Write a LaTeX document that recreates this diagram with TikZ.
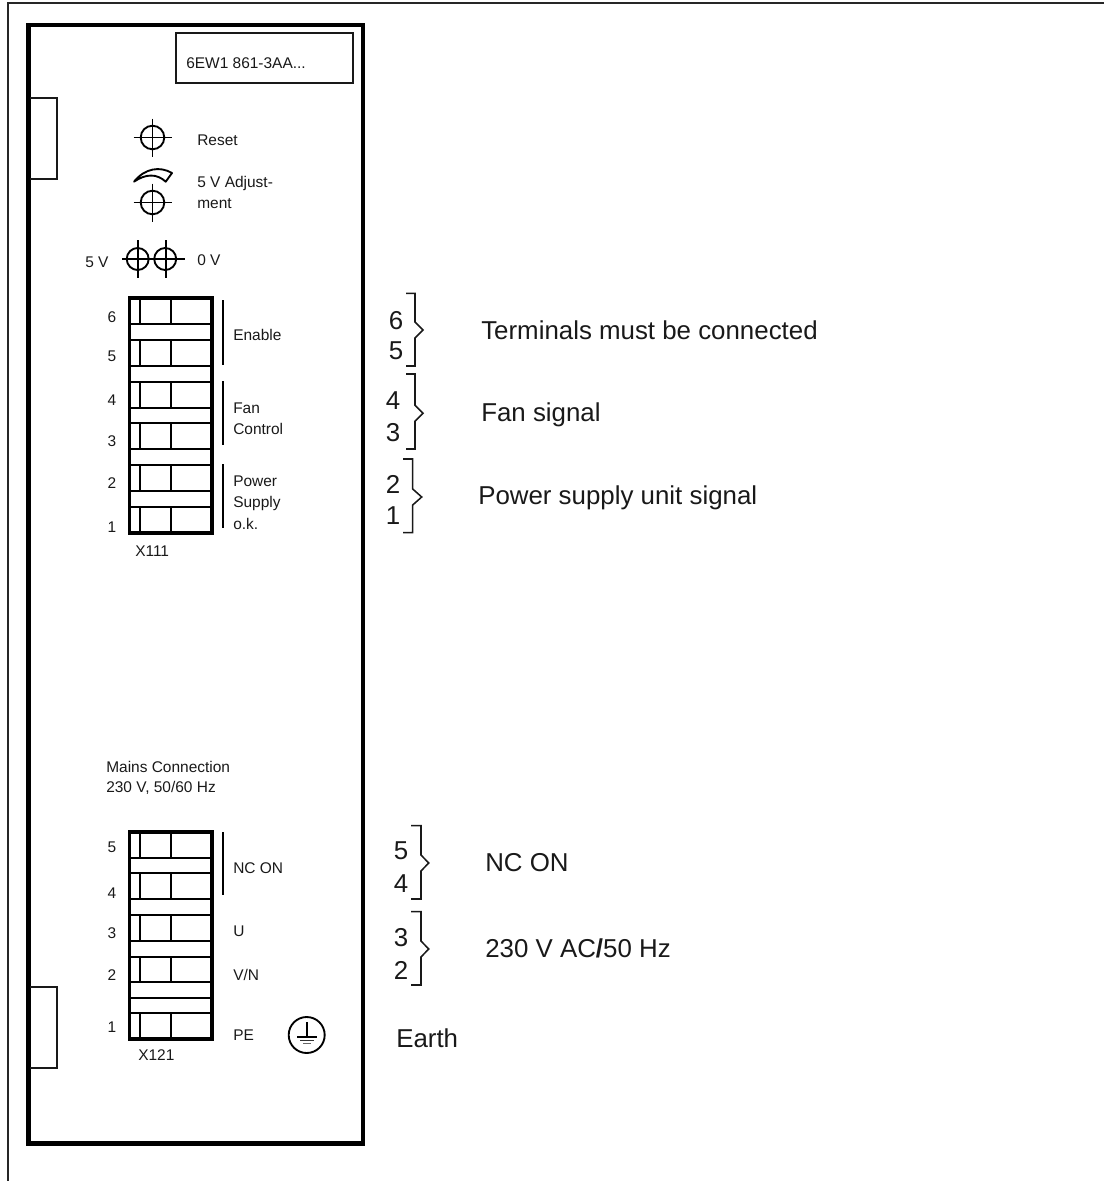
\documentclass[tikz,border=0pt]{standalone}
\usepackage{fontspec}
\setmainfont{Liberation Sans}
\tikzset{
  small/.style={font=\fontsize{11.6pt}{13pt}\selectfont, inner sep=0pt, anchor=base west, yshift=-4.1pt, text=black!90},
  smalldigit/.style={small, anchor=base},
  big/.style={font=\fontsize{19.4pt}{22pt}\selectfont, inner sep=0pt, anchor=base west, yshift=-6.9pt, text=black!90},
  bigdigit/.style={big, anchor=base},
  frame/.style={line width=1.1pt, black!85},
  panel/.style={line width=3.2pt, black, line cap=square},
  conn/.style={line width=2.8pt, black, line cap=square},
  thin line/.style={line width=1.4pt, black},
  tab line/.style={line width=1.15pt, black!90},
  brace line/.style={line width=1.15pt, black!90, line join=miter},
}
\newcommand{\tgt}[4]{%
  \draw[thin line] (#1,#2) circle (#4);
  \draw[thin line] (#1-19,#2) -- (#1+19,#2);
  \draw[thin line] (#1,#2-19) -- (#1,#2+19);
  \coordinate (#3) at (#1,#2);}
\newcommand{\cbrace}[6]{% xv, xhook, xtip, ytop, ytip, ybot
  \draw[brace line] (#2,#4) -- (#1,#4) -- (#1,#5-8) -- (#3,#5) -- (#1,#5+8) -- (#1,#6) -- (#2,#6);}
\begin{document}
\begin{tikzpicture}[x=0.75pt,y=-0.75pt]
\useasboundingbox (0,0) rectangle (1104,1181);
% outer frame
\coordinate (fa) at (8,1181);
\coordinate (fb) at (8,3);
\coordinate (fc) at (1104,3);
\draw[frame] (fa) -- (fb) -- (fc);
% panel
\draw[panel] (28.5,25) rectangle (363,1143.5);
% type label
\draw[tab line] (176,33) rectangle (353,83);
\node[small] (type) at (186,63) {6EW1 861-3AA...};
% tabs
\draw[tab line] (30,98) -- (57,98) -- (57,179) -- (30,179);
\draw[tab line] (30,987) -- (57,987) -- (57,1068) -- (30,1068);
% reset and adjustment
\tgt{152.5}{137.5}{reset}{11.8}
\node[small] (lreset) at (197,140) {Reset};
\tgt{152.5}{202.5}{adjust}{11.8}
\draw[thin line, line join=round] (134,181.7) .. controls (145,168) and (160,166) .. (172,173) -- (165.7,181.7) .. controls (157,173.5) and (146,173.5) .. cycle;
\node[small] (ladj1) at (197,182) {5 V Adjust-};
\node[small] (ladj2) at (197,203) {ment};
% test points
\draw[thin line] (137.7,259) circle (11);
\draw[thin line] (165.2,259) circle (11);
\draw[thin line] (122,259) -- (185,259);
\draw[thin line] (137.7,240) -- (137.7,278);
\draw[thin line] (165.7,240) -- (165.7,278);
\node[small] (l5v) at (85,262) {5 V};
\node[small] (l0v) at (197,260) {0 V};
% X111
\draw[conn] (129.5,298) rectangle (212,532.7);
\foreach \ya/\yb in {298/324.3,340/366,381.7/407.7,423.3/449.3,465/491,506.7/532.7}{
  \draw[thin line] (129.5,\ya) -- (212,\ya);
  \draw[thin line] (129.5,\yb) -- (212,\yb);
  \draw[thin line] (140,\ya) -- (140,\yb);
  \draw[thin line] (171,\ya) -- (171,\yb);
}
\foreach \t/\y in {6/317,5/356,4/400,3/441.5,2/483,1/526.7}
  \node[smalldigit] (xa\t) at (112,\y) {\t};
\draw[thin line] (223,300) -- (223,365);
\draw[thin line] (223,381) -- (223,445);
\draw[thin line] (223,464) -- (223,528);
\node[small] (en) at (233,335) {Enable};
\node[small] (fan) at (233,408) {Fan};
\node[small] (ctl) at (233,429) {Control};
\node[small] (pw) at (233,481) {Power};
\node[small] (sp) at (233,502) {Supply};
\node[small] (ok) at (233,524) {o.k.};
\node[small] (x111) at (135,551) {X111};
% Mains
\node[small] (m1) at (106,767) {Mains Connection};
\node[small] (m2) at (106,787) {230 V, 50/60 Hz};
% X121
\draw[conn] (129.5,832) rectangle (212,1039);
\foreach \ya/\yb in {832/857.7,873.3/899.3,915/941,956.7/982.3,1013.3/1039}{
  \draw[thin line] (129.5,\ya) -- (212,\ya);
  \draw[thin line] (129.5,\yb) -- (212,\yb);
  \draw[thin line] (140,\ya) -- (140,\yb);
  \draw[thin line] (171,\ya) -- (171,\yb);
}
\draw[thin line] (129.5,998.3) -- (212,998.3);
\foreach \t/\y in {5/846.7,4/892.7,3/933,2/975,1/1026.7}
  \node[smalldigit] (xb\t) at (112,\y) {\t};
\draw[thin line] (223,832) -- (223,895);
\node[small] (nc) at (233,868) {NC ON};
\node[small] (u) at (233,931) {U};
\node[small] (vn) at (233,975) {V/N};
\node[small] (pe) at (233,1035) {PE};
\node[small] (x121) at (138,1055) {X121};
% earth symbol
\draw[thin line] (306.7,1035) circle (18);
\draw[thin line] (306.7,1022) -- (306.7,1037);
\draw[thin line] (297,1037) -- (317,1037);
\draw[line width=1pt, black!80] (300,1040.3) -- (313.5,1040.3);
\draw[line width=1pt, black!60] (303,1043.5) -- (310.5,1043.5);
% right-hand braces
\cbrace{415}{406}{423}{293.3}{330}{366}
\cbrace{415}{406}{423}{374}{413.3}{449}
\cbrace{412.7}{403}{421.7}{459}{497}{532.7}
\cbrace{421}{411}{428.7}{825.7}{863}{899}
\cbrace{421}{411}{428.7}{911.7}{949}{985}
\foreach \t/\x/\y/\n in {6/396/320/a,5/396/350/b,4/393/400/c,3/393/432/d,2/393/484/e,1/393/515/f,5/401/850.7/g,4/401/883/h,3/401/937.7/i,2/401/970/j}
  \node[bigdigit] (d\n) at (\x,\y) {\t};
\node[big] (t1) at (481,330) {Terminals must be connected};
\node[big] (t2) at (481,412) {Fan signal};
\node[big] (t3) at (478,495) {Power supply unit signal};
\node[big] (t4) at (485,862) {NC ON};
\node[big] (t5) at (485,948) {230 V AC\textbf{/}50 Hz};
\node[big] (t6) at (396,1038) {Earth};
\end{tikzpicture}
\end{document}
